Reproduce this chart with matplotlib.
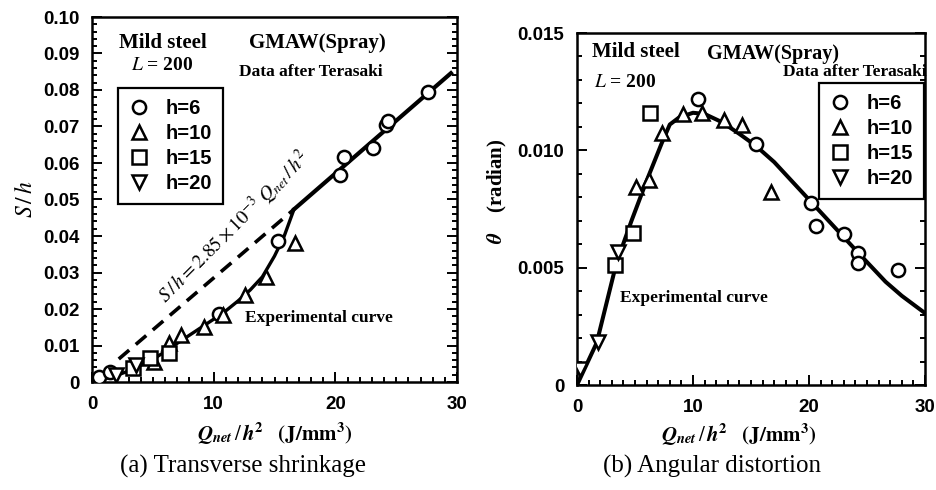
import matplotlib
matplotlib.use("Agg")
import matplotlib.pyplot as plt
from matplotlib.ticker import MultipleLocator
from matplotlib.lines import Line2D

plt.rcParams['mathtext.fontset'] = 'stix'
plt.rcParams['font.family'] = 'Liberation Sans'

# ---- (a) transverse shrinkage, S/h vs Qnet/h^2 ----
a_h6_x = [0.6, 1.5, 10.4, 15.3, 20.4, 20.7, 23.1, 24.2, 24.3, 27.6]
a_h6_y = [0.0014, 0.0027, 0.0186, 0.0385, 0.0567, 0.0616, 0.0640, 0.0705, 0.0715, 0.0795]
a_h10_x = [5.1, 6.3, 7.3, 9.2, 10.8, 12.6, 14.3, 16.7]
a_h10_y = [0.0055, 0.0107, 0.0129, 0.0150, 0.0183, 0.0238, 0.0288, 0.0380]
a_h15_x = [3.4, 4.8, 6.3]
a_h15_y = [0.0038, 0.0066, 0.0080]
a_h20_x = [2.0, 3.6]
a_h20_y = [0.0020, 0.0047]

# experimental curve (solid)
a_curve_x = [0, 1, 2, 3, 4, 5, 6, 7, 8, 9, 10, 11, 12, 13, 14, 15, 15.8, 16.6]
a_curve_y = [0, 0.0008, 0.0018, 0.0030, 0.0045, 0.0062, 0.0083, 0.0106, 0.0128, 0.0150,
             0.0172, 0.0195, 0.0222, 0.0252, 0.0288, 0.0345, 0.0400, 0.0473]
# S/h = 2.85e-3 Qnet/h^2 : dashed part, then solid part
a_dash_x = [2.2, 16.6]
a_dash_y = [0.0063, 0.0473]
a_line_x = [16.6, 29.5]
a_line_y = [0.0473, 0.0846]

# ---- (b) angular distortion, theta vs Qnet/h^2 ----
b_h6_x = [10.4, 15.4, 20.2, 20.6, 23.0, 24.2, 24.2, 27.7]
b_h6_y = [0.01219, 0.01027, 0.00776, 0.00677, 0.00643, 0.00562, 0.00520, 0.00490]
b_h10_x = [5.1, 6.2, 7.3, 9.1, 10.8, 12.7, 14.2, 16.7]
b_h10_y = [0.00844, 0.00873, 0.01074, 0.01155, 0.01159, 0.01129, 0.01108, 0.00822]
b_h15_x = [3.3, 4.8, 6.3]
b_h15_y = [0.00511, 0.00648, 0.01159]
b_h20_x = [0.3, 1.8, 3.5]
b_h20_y = [0.0007, 0.00183, 0.00567]

b_curve_x = [0, 1.7, 3.4, 4.7, 6.0, 7.3, 8.0, 8.8, 10.0, 11.0, 12.5, 14.0, 15.4, 17.0,
             18.5, 20.0, 21.5, 23.0, 24.5, 26.6, 28.0, 29.9]
b_curve_y = [0, 0.0018, 0.0052, 0.0070, 0.0087, 0.0103, 0.0111, 0.0114, 0.0116, 0.01155,
             0.0112, 0.0107, 0.0102, 0.0095, 0.0087, 0.0079, 0.0071, 0.0063, 0.0055,
             0.0044, 0.0038, 0.0031]

series_labels = ["h=6", "h=10", "h=15", "h=20"]
series_markers = ["o", "^", "s", "v"]

W, H = 936, 490
fig = plt.figure(figsize=(W / 100, H / 100), dpi=100)

serif = 'Liberation Serif'
mk = dict(linestyle='none', markerfacecolor='white', markeredgecolor='black',
          markersize=9.5, markeredgewidth=1.8, zorder=4)


def style_axes(ax):
    for s in ax.spines.values():
        s.set_linewidth(1.8)
    ax.tick_params(which='both', direction='in', right=True, top=False, width=1.4)
    ax.tick_params(which='major', length=7)
    ax.tick_params(which='minor', length=3.5)
    ax.tick_params(axis='y', pad=9)
    ax.tick_params(axis='x', pad=10)
    for lab in ax.get_xticklabels() + ax.get_yticklabels():
        lab.set_fontweight('bold')
        lab.set_fontsize(13.5)


def add_legend(ax, anchor):
    handles = [Line2D([], [], marker=m, **mk) for m in series_markers]
    leg = ax.legend(handles, series_labels, loc='upper left', bbox_to_anchor=anchor,
                    borderaxespad=0, fancybox=False, framealpha=1, edgecolor='black',
                    handletextpad=0.8, labelspacing=0.3, handlelength=1.0,
                    borderpad=0.55, prop={'family': 'Liberation Sans', 'weight': 'bold', 'size': 14.5})
    leg.get_frame().set_linewidth(1.6)
    leg.set_zorder(6)


xlabel = r"$\mathbfit{Q}_{\mathbfit{net}}\,/\,\mathbfit{h}^{\mathbf{2}}\quad\mathbf{(J/mm^3)}$"

# ---------------- panel (a) ----------------
ax1 = fig.add_axes([92 / W, 1 - 382 / H, 365 / W, 365 / H])
ax1.plot(a_curve_x, a_curve_y, color='black', lw=2.4, zorder=3)
ax1.plot(a_line_x, a_line_y, color='black', lw=3.0, zorder=3)
ax1.plot(a_dash_x, a_dash_y, color='black', lw=2.6, dashes=(3.8, 2.4), zorder=3)
for xs, ys, m in zip([a_h6_x, a_h10_x, a_h15_x, a_h20_x],
                     [a_h6_y, a_h10_y, a_h15_y, a_h20_y], series_markers):
    ax1.plot(xs, ys, marker=m, **mk)
ax1.set_xlim(0, 30)
ax1.set_ylim(0, 0.10)
ax1.xaxis.set_minor_locator(MultipleLocator(1))
ax1.yaxis.set_minor_locator(MultipleLocator(0.002))
ax1.set_yticks([i / 100 for i in range(11)])
ax1.set_yticklabels(["0"] + ["%.2f" % (i / 100) for i in range(1, 11)])
ax1.set_xticks([0, 10, 20, 30])
ax1.set_xticklabels(["0", "10", "20", "30"])
style_axes(ax1)
ax1.set_xlabel(xlabel, fontsize=15)
ax1.xaxis.set_label_coords(0.5, -0.105)
ax1.set_ylabel(r"$S\,/\,h$", fontsize=17, labelpad=4)

tk = dict(family=serif, fontsize=15, fontweight='bold', va='center')
sm = dict(family=serif, fontsize=12.5, fontweight='bold', va='center')
ax1.text(2.2, 0.0928, "Mild steel", **tk)
ax1.text(12.9, 0.0928, "GMAW(Spray)", **tk)
ax1.text(3.2, 0.0866, r"$\mathit{L}$ = 200", family=serif, fontsize=14, fontweight='bold',
         va='center')
ax1.text(12.1, 0.0850, "Data after Terasaki", **sm)
ax1.text(12.6, 0.0175, "Experimental curve", **sm)
ax1.text(11.7, 0.0425, r"$S\,/\,h = 2.85\times10^{-3}\ Q_{net}\,/\,h^2$",
         fontsize=14, rotation=45, ha='center', va='center', rotation_mode='anchor')
add_legend(ax1, (0.072, 0.805))

# ---------------- panel (b) ----------------
ax2 = fig.add_axes([577 / W, 1 - 385 / H, 348 / W, 352 / H])
ax2.plot(b_curve_x, b_curve_y, color='black', lw=2.9, zorder=3)
for xs, ys, m in zip([b_h6_x, b_h10_x, b_h15_x, b_h20_x],
                     [b_h6_y, b_h10_y, b_h15_y, b_h20_y], series_markers):
    ax2.plot(xs, ys, marker=m, **mk)
ax2.set_xlim(0, 30)
ax2.set_ylim(0, 0.015)
ax2.xaxis.set_minor_locator(MultipleLocator(1))
ax2.yaxis.set_minor_locator(MultipleLocator(0.001))
ax2.set_xticks([0, 10, 20, 30])
ax2.set_xticklabels(["0", "10", "20", "30"])
ax2.set_yticks([0, 0.005, 0.010, 0.015])
ax2.set_yticklabels(["0", "0.005", "0.010", "0.015"])
style_axes(ax2)
ax2.set_xlabel(xlabel, fontsize=15)
ax2.xaxis.set_label_coords(0.465, -0.105)
ax2.set_ylabel(r"$\mathbfit{\theta}$    (radian)", family=serif, fontsize=15,
               fontweight='bold')
ax2.yaxis.set_label_coords(-0.195, 0.55)

ax2.text(1.3, 0.0142, "Mild steel", **tk)
ax2.text(11.2, 0.0141, "GMAW(Spray)", family=serif, fontsize=14.5, fontweight='bold',
         va='center')
ax2.text(1.5, 0.0129, r"$\mathit{L}$ = 200", family=serif, fontsize=14, fontweight='bold',
         va='center')
ax2.text(30.1, 0.01335, "Data after Terasaki", ha='right', **sm)
ax2.text(3.7, 0.0037, "Experimental curve", **sm)
add_legend(ax2, (0.695, 0.858))

# captions
fig.text(243 / W, 1 - 466 / H, "(a) Transverse shrinkage", family=serif, fontsize=18,
         ha='center', va='center')
fig.text(712 / W, 1 - 466 / H, "(b) Angular distortion", family=serif, fontsize=18,
         ha='center', va='center')

fig.savefig("out.png", dpi=100)
